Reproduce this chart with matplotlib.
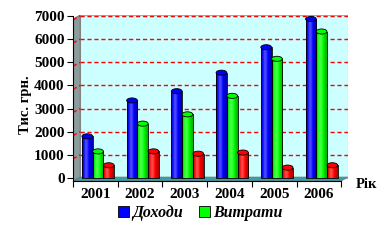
import numpy as np
import matplotlib
matplotlib.use("Agg")
import matplotlib.pyplot as plt
from matplotlib.patches import Patch, Ellipse, Polygon, Rectangle
from matplotlib.colors import LinearSegmentedColormap

years = ["2001", "2002", "2003", "2004", "2005", "2006"]
dohody = [1800, 3350, 3750, 4550, 5650, 6870]
vytraty = [1150, 2350, 2750, 3550, 5150, 6330]
rizn = [550, 1150, 1050, 1100, 450, 550]
series_colors = ["#0000ff", "#00ff00", "#ff0000"]
legend_names = ["Доходи", "Витрати"]

plt.rcParams['font.family'] = ['Liberation Serif', 'DejaVu Serif']

fig = plt.figure(figsize=(3.87, 2.41), dpi=100)
ax = fig.add_axes([73/387, 1-181/241, 275/387, 166/241])
ax.patch.set_visible(False)

# back plane, side wall, floor
ax.add_patch(Rectangle((0.16, 0), 6.15-0.16, 7043, facecolor="#ccffff",
                       edgecolor="#aaaaaa", lw=0.8, zorder=0))
ax.add_patch(Polygon([(0, -130), (0, 6870), (0.16, 7043), (0.16, 40)],
                     facecolor="#8c9c9c", edgecolor="#606060", lw=0.5, zorder=1))
ax.add_patch(Polygon([(0, -130), (6.0, -130), (6.15, 40), (0.16, 40)],
                     facecolor="#3aa0a8", edgecolor="#707070", lw=0.5, zorder=1))

for v in range(1000, 8000, 1000):
    ax.plot([0.16, 6.15], [v, v], color="#ff0000", lw=1.0, ls=(0, (3, 2)), zorder=1.5)
    ax.plot([0, 0.16], [v - 170, v], color="#ff0000", lw=1.0, ls=(0, (3, 2)), zorder=1.5)

offsets = [0.32, 0.56, 0.80]
width = 0.24
grad = np.array([[0.42, 0.55, 0.66, 0.6, 0.5, 0.42, 0.36]])

for s, (vals, col) in enumerate(zip([dohody, vytraty, rizn], series_colors)):
    cmap = LinearSegmentedColormap.from_list("c%d" % s, ["#000000", col, "#ffffff"])
    for k, v in enumerate(vals):
        x0 = k + offsets[s] - width/2
        ax.imshow(grad, cmap=cmap, vmin=0, vmax=1, aspect="auto",
                  extent=(x0, x0 + width, 0, v), zorder=3 + k*0.1, interpolation="bilinear")
        ax.add_patch(Rectangle((x0, 0), width, v, fill=False, edgecolor="black",
                               lw=0.6, zorder=3.05 + k*0.1))
        ax.add_patch(Ellipse((x0 + width/2, v), width, 220, facecolor=col,
                             edgecolor="black", lw=0.6, zorder=3.06 + k*0.1))
ax.set_xlim(0, 6.15)
ax.set_ylim(-130, 7043)

ax.spines['top'].set_visible(False)
ax.spines['right'].set_visible(False)
ax.spines['left'].set_bounds(-130, 7000)
ax.spines['bottom'].set_bounds(0, 6.0)
ax.set_yticks(range(0, 8000, 1000))
ax.set_yticklabels([str(v) for v in range(0, 8000, 1000)], fontsize=11, fontweight="bold")
ax.set_xticks(np.arange(0, 7))
ax.set_xticklabels([])
ax.set_xticks(np.arange(6) + 0.5, minor=True)
ax.set_xticklabels(years, minor=True, fontsize=11, fontweight="bold")
ax.tick_params(axis="x", which="minor", length=0, pad=5)
ax.tick_params(axis="both", which="major", length=4, width=0.8)
ax.tick_params(axis="y", pad=2)

fig.text(26/387, 1-105/241, "Тис. грн.", rotation=90, fontsize=10.5,
         fontweight="bold", ha="center", va="center")
fig.text(366/387, 1-185/241, "Рік", fontsize=10.5, fontweight="bold",
         ha="center", va="center")

handles = [Patch(facecolor=c, edgecolor="black", lw=0.6) for c in series_colors[:2]]
fig.legend(handles, legend_names, loc="center", bbox_to_anchor=(200/387, 1-213/241),
           ncol=2, frameon=False, handlelength=0.7, handleheight=0.7,
           handletextpad=0.2, columnspacing=1.0,
           prop={"family": "Liberation Serif", "weight": "bold", "style": "italic", "size": 11.5})

fig.savefig("out.png", dpi=100)
